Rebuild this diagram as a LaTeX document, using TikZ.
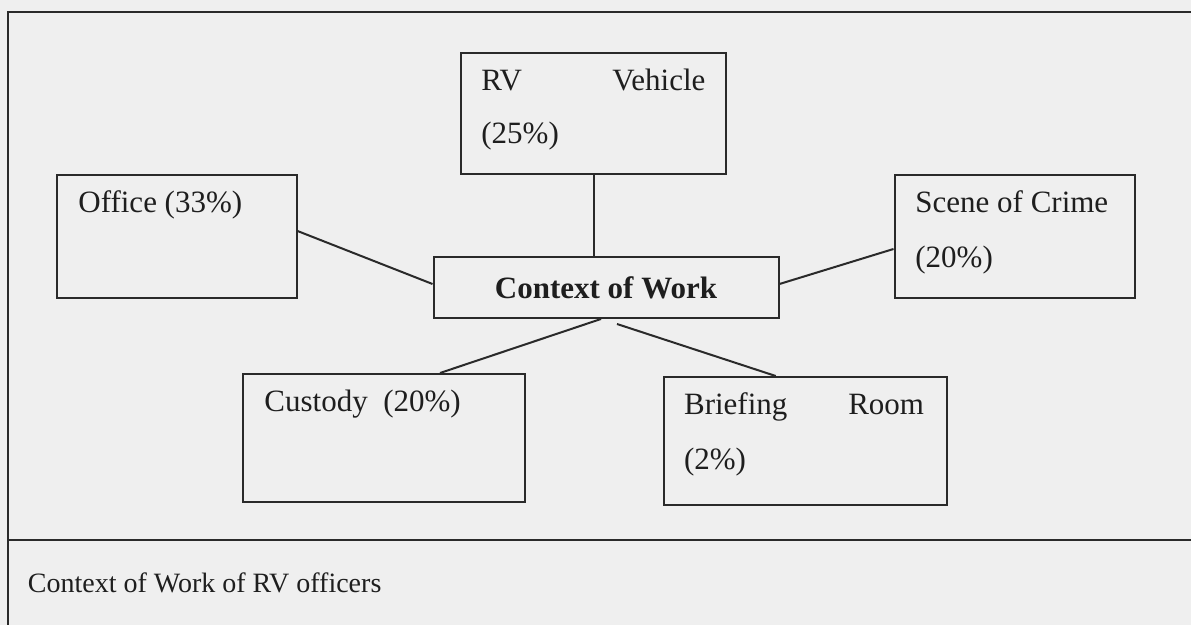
\documentclass[tikz,border=0pt]{standalone}
\usepackage{fontspec}
\setmainfont{Liberation Serif}
\definecolor{bg}{HTML}{EFEFEF}
\definecolor{ink}{HTML}{2A2A2A}
\definecolor{txt}{HTML}{1E1E1E}
\begin{document}
\begin{tikzpicture}[x=0.5pt,y=-0.5pt,
  box/.style={draw=ink, line width=1pt, rectangle, inner sep=0pt, anchor=north west},
  lbl/.style={inner sep=0pt, anchor=base west, text=txt, font=\fontsize{15.5}{18}\selectfont},
  conn/.style={draw=ink, line width=1pt},
  frame/.style={draw=ink, line width=1.1pt}]
\fill[bg] (0,0) rectangle (1191,625);
\useasboundingbox (0,0) rectangle (1191,625);
% outer frame
\coordinate (tl) at (7.7,12);
\coordinate (tr) at (1191,12);
\coordinate (bl) at (7.7,625);
\coordinate (dl) at (7.7,540);
\coordinate (dr) at (1191,540);
\draw[frame] (tr) -- (tl) -- (bl);
\draw[frame] (dl) -- (dr);
% boxes
\node[box, minimum width=132.5pt, minimum height=60.5pt] (rv) at (460,52) {};
\node[box, minimum width=120pt, minimum height=61.5pt] (office) at (55.5,174) {};
\node[box, minimum width=120.25pt, minimum height=61.5pt] (scene) at (893.5,174) {};
\node[box, minimum width=172.5pt, minimum height=30.5pt, font=\fontsize{15.5}{18}\selectfont\bfseries, text=txt] (ctx) at (432.5,256) {Context of Work};
\node[box, minimum width=140.75pt, minimum height=64pt] (cust) at (242,373) {};
\node[box, minimum width=141.65pt, minimum height=64pt] (brief) at (662.7,376) {};
% texts
\node[lbl] (rvt1) at ([shift={(10.5pt,-19.5pt)}]rv.north west) {\hbox to 112pt{RV\hfill Vehicle}};
\node[lbl] (rvt2) at ([shift={(10.5pt,-46pt)}]rv.north west) {(25\%)};
\node[lbl] (oft) at ([shift={(11.25pt,-19.5pt)}]office.north west) {Office (33\%)};
\node[lbl] (sct1) at ([shift={(10.75pt,-19.5pt)}]scene.north west) {Scene of Crime};
\node[lbl] (sct2) at ([shift={(10.75pt,-47pt)}]scene.north west) {(20\%)};
\node[lbl] (cut) at ([shift={(11pt,-19.5pt)}]cust.north west) {Custody\ \ (20\%)};
\node[lbl] (brt1) at ([shift={(10.5pt,-19.5pt)}]brief.north west) {\hbox to 120pt{Briefing\hfill Room}};
\node[lbl] (brt2) at ([shift={(10.5pt,-47pt)}]brief.north west) {(2\%)};
\node[lbl, font=\fontsize{14}{17}\selectfont] (cap) at (27.5,593) {Context of Work of RV officers};
% connectors
\draw[conn] (rv.south) -- (rv.south |- ctx.north);
\draw[conn] ([yshift=2.75pt]office.east) -- ([yshift=1.75pt]ctx.west);
\draw[conn] ([yshift=1.75pt]ctx.east) -- ([yshift=-6.25pt]scene.west);
\draw[conn] ([xshift=-2.5pt]ctx.south) -- ([xshift=99pt]cust.north west);
\draw[conn] ([xshift=5.5pt,yshift=-2.5pt]ctx.south) -- ([xshift=56.5pt]brief.north west);
\end{tikzpicture}
\end{document}
